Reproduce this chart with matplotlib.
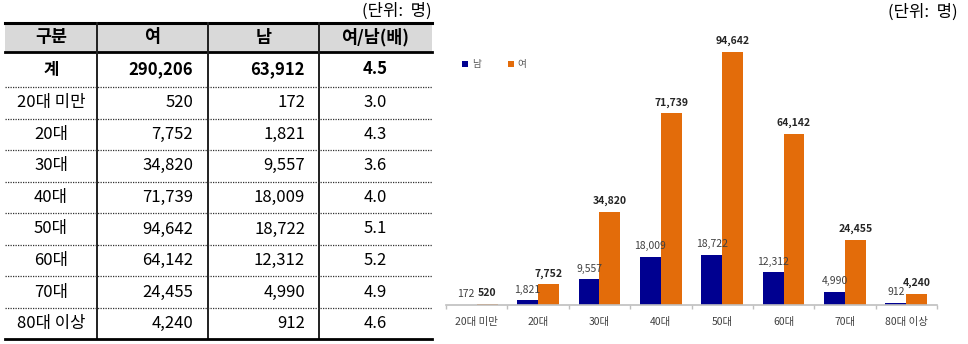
import numpy as np
import matplotlib.pyplot as plt

plt.rcParams['font.family'] = ['Noto Sans CJK KR', 'DejaVu Sans']

# 연령대별 인원 (단위: 명)
groups = ['20대 미만', '20대', '30대', '40대', '50대', '60대', '70대', '80대 이상']
female = [520, 7752, 34820, 71739, 94642, 64142, 24455, 4240]
male = [172, 1821, 9557, 18009, 18722, 12312, 4990, 912]
ratio = [3.0, 4.3, 3.6, 4.0, 5.1, 5.2, 4.9, 4.6]
total_female = 290206
total_male = 63912
total_ratio = 4.5
headers = ['구분', '여', '남', '여/남(배)']

NAVY = '#000090'
ORANGE = '#e36c0a'

fig = plt.figure(figsize=(9.68, 3.44), dpi=100)

# ---- 왼쪽 표 (픽셀 좌표계) ----
tab = fig.add_axes([0, 0, 1, 1])
tab.set_xlim(0, 968)
tab.set_ylim(344, 0)
tab.axis('off')

left, right = 5, 432
col_x = [5, 97, 208, 319, 432]
top, head_bot = 23, 52
row_h = 31.55
first_row_bot = 87

tab.text(right, 11, '(단위:  명)', ha='right', va='center', fontsize=12)
tab.fill_between([left, right], top, head_bot, color='#d9d9d9', lw=0)
tab.plot([left, right], [top, top], color='k', lw=2.2)
tab.plot([left, right], [head_bot, head_bot], color='k', lw=2.0)
for cx in col_x[1:-1]:
    tab.plot([cx, cx], [top, 339], color='#202020', lw=1.4)

for i, h in enumerate(headers):
    cxm = (col_x[i] + col_x[i + 1]) / 2
    tab.text(cxm, (top + head_bot) / 2, h, ha='center', va='center',
             fontsize=12.5, fontweight='bold')

rows = [('계', f'{total_female:,}', f'{total_male:,}', f'{total_ratio:.1f}')]
rows += [(g, f'{f:,}', f'{m:,}', f'{r:.1f}')
         for g, f, m, r in zip(groups, female, male, ratio)]

y0 = head_bot
for i, (g, f, m, r) in enumerate(rows):
    y1 = first_row_bot if i == 0 else y0 + row_h
    yc = (y0 + y1) / 2
    wt = 'bold' if i == 0 else 'normal'
    tab.text((col_x[0] + col_x[1]) / 2, yc, g, ha='center', va='center',
             fontsize=12, fontweight=wt)
    tab.text(col_x[2] - 15, yc, f, ha='right', va='center', fontsize=12, fontweight=wt)
    tab.text(col_x[3] - 14, yc, m, ha='right', va='center', fontsize=12, fontweight=wt)
    tab.text((col_x[3] + col_x[4]) / 2, yc, r, ha='center', va='center',
             fontsize=12, fontweight=wt)
    if i == len(rows) - 1:
        tab.plot([left, right], [y1, y1], color='k', lw=2.0)
    else:
        tab.plot([left, right], [y1, y1], color='#303030', lw=0.9,
                 linestyle=(0, (1, 1)))
    y0 = y1

# ---- 오른쪽 막대그래프 ----
fig.text(958 / 968, 1 - 12 / 344, '(단위:  명)', ha='right', va='center', fontsize=12)

ax = fig.add_axes([446 / 968, 39 / 344, 491 / 968, (305 - 37.7) / 344])
x = np.arange(len(groups))
w = 0.34
bm = ax.bar(x - w / 2, male, w, color=NAVY, label='남')
bf = ax.bar(x + w / 2, female, w, color=ORANGE, label='여')

for rect, v in zip(bm, male):
    ax.annotate(f'{v:,}', (rect.get_x() + rect.get_width() / 2, v),
                xytext=(0, 4), textcoords='offset points', ha='center',
                va='bottom', fontsize=7.5, color='#404040')
for rect, v in zip(bf, female):
    ax.annotate(f'{v:,}', (rect.get_x() + rect.get_width() / 2, v),
                xytext=(0, 4), textcoords='offset points', ha='center',
                va='bottom', fontsize=7.5, fontweight='bold', color='#262626')

ax.set_xlim(-0.5, len(groups) - 0.5)
ax.set_ylim(0, 100000)
ax.set_yticks([])
for s in ['top', 'right', 'left']:
    ax.spines[s].set_visible(False)
ax.spines['bottom'].set_color('#bfbfbf')
ax.spines['bottom'].set_linewidth(1.2)
ax.set_xticks(x)
ax.set_xticklabels(groups, fontsize=7.5, color='#404040')
ax.tick_params(axis='x', which='major', length=0, pad=9)
ax.set_xticks(np.arange(-0.5, len(groups)), minor=True)
ax.tick_params(axis='x', which='minor', length=3, color='#bfbfbf', width=1)

ax.legend(loc='center left', bbox_to_anchor=(0.025, 0.9), ncol=2, frameon=False,
          fontsize=7, handlelength=0.6, handleheight=0.6, columnspacing=2.8,
          handletextpad=0.4, labelcolor='#595959', borderaxespad=0)

fig.savefig('out.png', dpi=100)
